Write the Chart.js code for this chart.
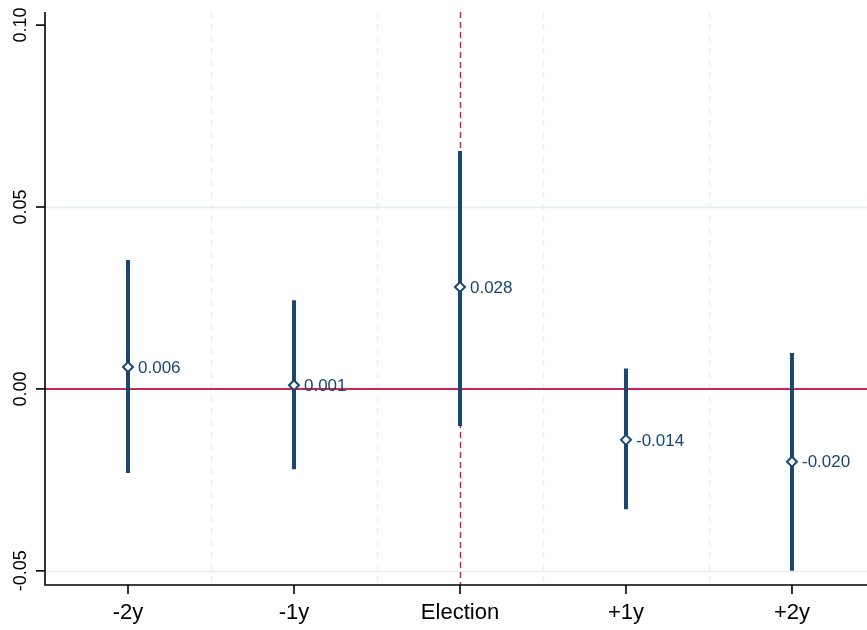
<!DOCTYPE html>
<html>
<head>
<meta charset="utf-8">
<script src="https://cdn.jsdelivr.net/npm/chart.js@4"></script>
<style>
    html, body { margin: 0; padding: 0; background: #fff; overflow: hidden; }
    #wrap { width: 867px; height: 630px; }
</style>
</head>
<body>
<div id="wrap"><canvas id="coefChart" width="867" height="630"></canvas></div>
<script>
// data
const periods = ['-2y', '-1y', 'Election', '+1y', '+2y'];
const estimates = [0.006, 0.001, 0.028, -0.014, -0.020];
const ciLow = [-0.0231, -0.0221, -0.0102, -0.0331, -0.0500];
const ciHigh = [0.0354, 0.0244, 0.0654, 0.0056, 0.0099];
const yTicks = [-0.05, 0.00, 0.05, 0.10];
const yGrid = [-0.05, 0.05];
const eventIndex = 2;

const navy = '#1a476f';
const red = '#c8264f';
const gridColor = '#e6eef0';
const fontFamily = '"Liberation Sans", Arial, sans-serif';

// CI segments as one line dataset broken by nulls
const ciPoints = [];
periods.forEach((p, i) => {
    ciPoints.push({ x: i, y: ciLow[i] });
    ciPoints.push({ x: i, y: ciHigh[i] });
    ciPoints.push({ x: i, y: null });
});

const pointData = estimates.map((v, i) => ({ x: i, y: v }));

// background: gridlines, zero line, election line
const backdrop = {
    id: 'backdrop',
    beforeDatasetsDraw(chart) {
        const { ctx, chartArea: a, scales: { x, y } } = chart;
        ctx.save();
        ctx.lineWidth = 1.5;
        ctx.strokeStyle = gridColor;
        yGrid.forEach(v => {
            const py = Math.round(y.getPixelForValue(v)) + 0.5;
            ctx.beginPath(); ctx.moveTo(a.left, py); ctx.lineTo(a.right, py); ctx.stroke();
        });
        ctx.setLineDash([6, 6]);
        for (let i = 0; i < periods.length; i++) {
            const px = Math.round(x.getPixelForValue(i + 0.5)) + 0.5;
            ctx.beginPath(); ctx.moveTo(px, a.top); ctx.lineTo(px, a.bottom); ctx.stroke();
        }
        // election marker
        ctx.strokeStyle = red;
        ctx.lineWidth = 1.5;
        ctx.setLineDash([6, 4]);
        const ex = Math.round(x.getPixelForValue(eventIndex)) + 0.5;
        ctx.beginPath(); ctx.moveTo(ex, a.top); ctx.lineTo(ex, a.bottom); ctx.stroke();
        // zero line
        ctx.setLineDash([]);
        ctx.lineWidth = 2;
        const zy = Math.round(y.getPixelForValue(0));
        ctx.beginPath(); ctx.moveTo(a.left, zy); ctx.lineTo(a.right, zy); ctx.stroke();
        ctx.restore();
    }
};

// axes, ticks, labels
const axesAndLabels = {
    id: 'axesAndLabels',
    afterDatasetsDraw(chart) {
        const { ctx, chartArea: a, scales: { x, y } } = chart;
        ctx.save();
        ctx.strokeStyle = '#000';
        ctx.lineWidth = 1.6;
        ctx.beginPath();
        ctx.moveTo(a.left, a.top); ctx.lineTo(a.left, a.bottom); ctx.lineTo(a.right, a.bottom);
        ctx.stroke();

        ctx.fillStyle = '#000';
        ctx.font = '18px ' + fontFamily;
        ctx.textAlign = 'center';
        ctx.textBaseline = 'middle';
        yTicks.forEach(v => {
            const py = y.getPixelForValue(v);
            ctx.beginPath(); ctx.moveTo(a.left - 9, py); ctx.lineTo(a.left, py); ctx.stroke();
            ctx.save();
            ctx.translate(21, py);
            ctx.rotate(-Math.PI / 2);
            ctx.fillText(v.toFixed(2), 0, 0);
            ctx.restore();
        });

        ctx.font = '22px ' + fontFamily;
        periods.forEach((p, i) => {
            const px = x.getPixelForValue(i);
            ctx.beginPath(); ctx.moveTo(px, a.bottom); ctx.lineTo(px, a.bottom + 9); ctx.stroke();
            ctx.fillText(p, px, a.bottom + 28);
        });

        // value labels next to markers
        ctx.font = '17px ' + fontFamily;
        ctx.fillStyle = navy;
        ctx.textAlign = 'left';
        estimates.forEach((v, i) => {
            ctx.fillText(v.toFixed(3), x.getPixelForValue(i) + 10, y.getPixelForValue(v) + 1);
        });
        ctx.restore();
    }
};

new Chart(document.getElementById('coefChart'), {
    type: 'scatter',
    data: {
        datasets: [
            {
                type: 'line',
                data: ciPoints,
                borderColor: navy,
                borderWidth: 4,
                borderCapStyle: 'butt',
                pointRadius: 0,
                spanGaps: false,
                order: 2
            },
            {
                data: pointData,
                pointStyle: 'rectRot',
                pointRadius: 5,
                pointBackgroundColor: '#fff',
                pointBorderColor: navy,
                pointBorderWidth: 2,
                order: 1
            }
        ]
    },
    options: {
        responsive: false,
        animation: false,
        layout: { autoPadding: false, padding: { left: 45, top: 12, right: 0, bottom: 45 } },
        plugins: { legend: { display: false }, tooltip: { enabled: false } },
        scales: {
            x: { type: 'linear', min: -0.5, max: 4.452, display: false },
            y: { type: 'linear', min: -0.0539, max: 0.1036, display: false }
        }
    },
    plugins: [backdrop, axesAndLabels]
});
</script>
</body>
</html>
